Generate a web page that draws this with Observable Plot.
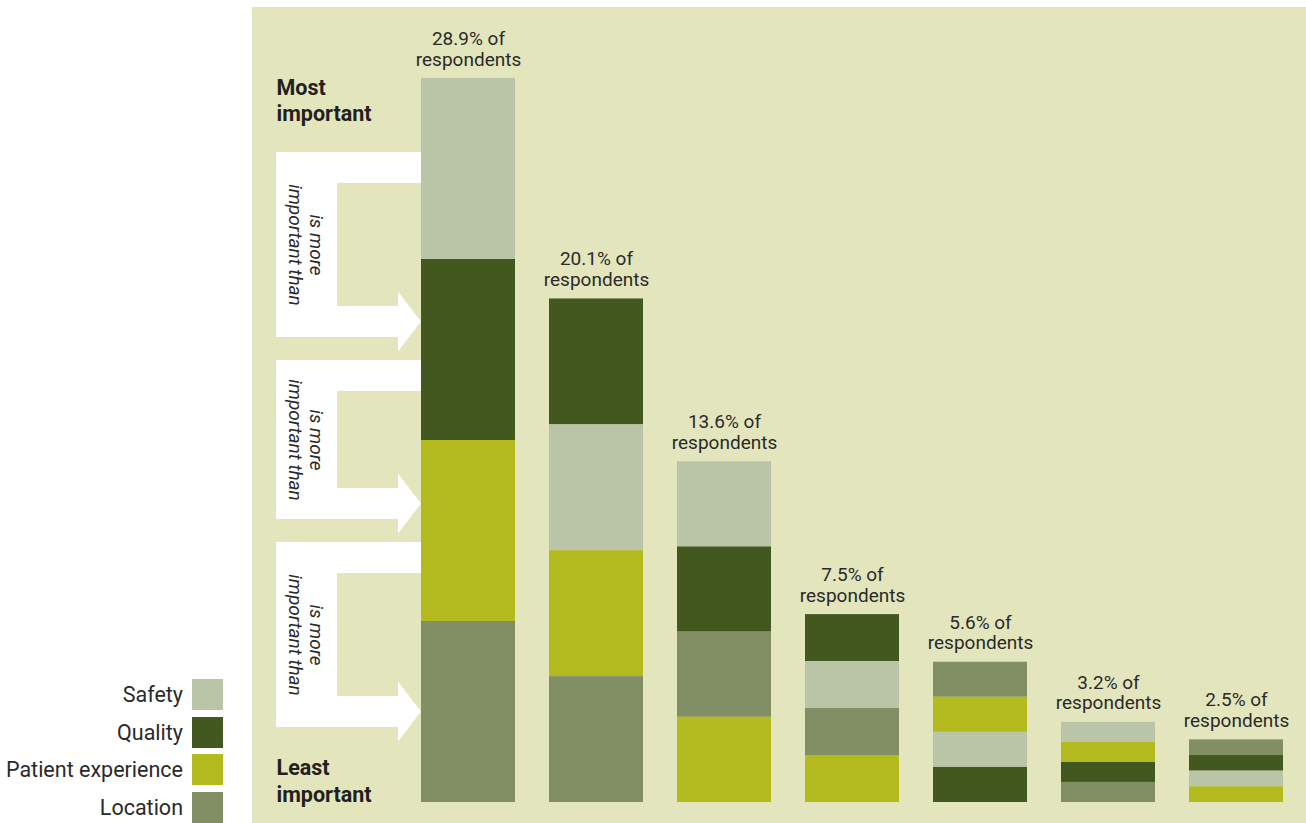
<!DOCTYPE html>
<html>
<head>
<meta charset="utf-8">
<script src="https://cdn.jsdelivr.net/npm/d3@7"></script>
<script src="https://cdn.jsdelivr.net/npm/@observablehq/plot@0.6"></script>
<style>
  html, body { margin: 0; padding: 0; background: #ffffff; }
  body { font-family: Roboto, "Open Sans", sans-serif; color: #2a2a2a; }
  #wrap { position: relative; width: 1306px; height: 823px; overflow: hidden; }
  #panel { position: absolute; left: 252px; top: 7px; width: 1054px; height: 816px; background: #e3e6bc; }
  #chart { position: absolute; left: 0; top: 0; }
  #chart svg { background: transparent !important; }
  #legend { position: absolute; left: 0; top: 679px; width: 223px; }
  .row { display: flex; justify-content: flex-end; align-items: center; height: 31px; margin-bottom: 6.7px; }
  .row span { font-size: 21.5px; margin-right: 9px; color: #2a2a2a; }
  .row i { display: block; width: 31px; height: 31px; }
</style>
</head>
<body>
<div id="wrap">
  <div id="panel"></div>
  <div id="chart"></div>
  <div id="legend"></div>
</div>
<script>
// ---- data ----
const profiles = ["P1", "P2", "P3", "P4", "P5", "P6", "P7"];
const shares = [28.9, 20.1, 13.6, 7.5, 5.6, 3.2, 2.5];
const factors = ["Safety", "Quality", "Patient experience", "Location"];
const factorColors = ["#bac4a6", "#43581f", "#b2ba1e", "#828f65"];
// ranking of the four factors in each profile, most important first
const rankings = [
  ["Safety", "Quality", "Patient experience", "Location"],
  ["Quality", "Safety", "Patient experience", "Location"],
  ["Safety", "Quality", "Location", "Patient experience"],
  ["Quality", "Safety", "Location", "Patient experience"],
  ["Location", "Patient experience", "Safety", "Quality"],
  ["Safety", "Patient experience", "Quality", "Location"],
  ["Location", "Quality", "Safety", "Patient experience"]
];
// "is more important than" arrows (top / bottom in % units of the y scale)
const arrowTops = [25.95, 17.64, 10.38];
const arrowBottoms = [18.56, 11.30, 2.99];

// ---- derived tables ----
const segments = [];
profiles.forEach((p, i) => {
  rankings[i].forEach((f, r) => {
    segments.push({profile: p, factor: f, rank: r + 1, fromBottom: 4 - r, value: shares[i] / 4});
  });
});
const labels = profiles.map((p, i) => ({profile: p, share: shares[i], text: `${shares[i]}% of\nrespondents`}));
const arrows = arrowTops.map((t, i) => ({top: t, bottom: arrowBottoms[i], mid: (t + arrowBottoms[i]) / 2}));

const font = "Roboto, 'Open Sans', sans-serif";

function arrowMark(index, scales, values, dims) {
  const g = d3.create("svg:g").attr("fill", "#ffffff");
  const tip = scales.x(profiles[0]);
  const L = tip - 145, S = L + 61, H = tip - 23, t = 31, head = 30;
  for (const a of arrows) {
    const top = scales.y(a.top), bot = scales.y(a.bottom);
    const c = bot - t / 2;
    const pts = [[L, top], [tip, top], [tip, top + t], [S, top + t], [S, bot - t], [H, bot - t],
      [H, c - head], [tip, c], [H, c + head], [H, bot], [L, bot]];
    g.append("path").attr("d", "M" + pts.map(p => p.join(",")).join("L") + "Z");
  }
  return g.node();
}

const chart = Plot.plot({
  width: 1306,
  height: 823,
  marginLeft: 420,
  marginRight: 23,
  marginTop: 78,
  marginBottom: 21,
  style: {background: "transparent", fontFamily: font, color: "#2a2a2a"},
  x: {domain: profiles, paddingInner: 0.265625, paddingOuter: 0, axis: null},
  y: {domain: [0, 28.9], axis: null},
  color: {domain: factors, range: factorColors},
  marks: [
    arrowMark,
    Plot.barY(segments, {x: "profile", y: "value", fill: "factor", order: "fromBottom"}),
    Plot.text(labels, {x: "profile", y: "share", text: "text", lineAnchor: "bottom", dy: -13,
      fontSize: 19, lineHeight: 1.08, fill: "#2a2a2a"}),
    Plot.text(["Most\nimportant"], {frameAnchor: "top-left", dx: -144, dy: -2, textAnchor: "start",
      lineAnchor: "top", fontSize: 21.5, fontWeight: "bold", lineHeight: 1.22, fill: "#231f20"}),
    Plot.text(["Least\nimportant"], {frameAnchor: "bottom-left", dx: -144, dy: -1, textAnchor: "start",
      lineAnchor: "bottom", fontSize: 21.5, fontWeight: "bold", lineHeight: 1.22, fill: "#231f20"}),
    Plot.text(arrows, {y: "mid", frameAnchor: "left", dx: -114, text: () => "is more\nimportant than",
      rotate: 90, textAnchor: "middle", lineAnchor: "middle", fontSize: 19, fontStyle: "italic",
      lineHeight: 1.15, fill: "#2a2a2a"})
  ]
});
document.getElementById("chart").appendChild(chart);

// legend
const legend = d3.select("#legend");
factors.forEach((f, i) => {
  const row = legend.append("div").attr("class", "row");
  row.append("span").text(f);
  row.append("i").style("background", factorColors[i]);
});
</script>
</body>
</html>
